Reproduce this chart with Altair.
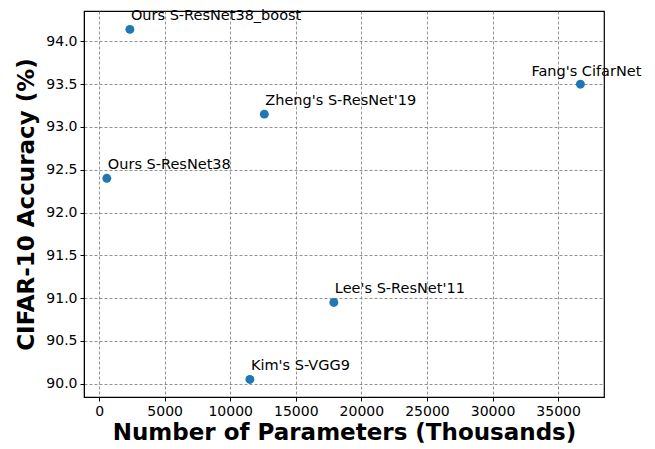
import altair as alt
import pandas as pd

models = ["Ours S-ResNet38_boost", "Ours S-ResNet38", "Zheng's S-ResNet'19",
          "Fang's CifarNet", "Lee's S-ResNet'11", "Kim's S-VGG9"]
params = [2350, 590, 12600, 36700, 17900, 11500]
accuracy = [94.14, 92.40, 93.15, 93.50, 90.95, 90.05]
x_ticks = [0, 5000, 10000, 15000, 20000, 25000, 30000, 35000]
y_ticks = [90.0, 90.5, 91.0, 91.5, 92.0, 92.5, 93.0, 93.5, 94.0]

df = pd.DataFrame({"model": models, "params": params, "acc": accuracy})

FONT = "DejaVu Sans"
xs = alt.Scale(domain=[-1150, 38500], nice=False, zero=False)
ys = alt.Scale(domain=[89.845, 94.355], nice=False, zero=False)

xenc = alt.X("params:Q", scale=xs,
             axis=alt.Axis(values=x_ticks, format="d", title="Number of Parameters (Thousands)",
                           titleFont=FONT, titleFontSize=23, titleFontWeight="bold",
                           titleColor="black", titlePadding=3,
                           labelFont=FONT, labelFontSize=14, labelColor="black",
                           tickColor="black", tickSize=4, domainColor="black",
                           gridColor="#777777", gridDash=[3, 2], gridWidth=0.8,
                           labelPadding=3))
yenc = alt.Y("acc:Q", scale=ys,
             axis=alt.Axis(values=y_ticks, format=".1f", title="CIFAR-10 Accuracy (%)",
                           titleFont=FONT, titleFontSize=23, titleFontWeight="bold",
                           titleColor="black", titlePadding=7,
                           labelFont=FONT, labelFontSize=14, labelColor="black",
                           tickColor="black", tickSize=4, domainColor="black",
                           gridColor="#777777", gridDash=[3, 2], gridWidth=0.8,
                           labelPadding=3))

base = alt.Chart(df)
points = base.mark_circle(size=80, color="#1f77b4", opacity=1).encode(x=xenc, y=yenc)
labels = base.transform_filter(alt.datum.model != "Fang's CifarNet").mark_text(
    align="left", baseline="alphabetic", dx=1, dy=-9, font=FONT, fontSize=14.5, color="black"
).encode(x=alt.X("params:Q", scale=xs), y=alt.Y("acc:Q", scale=ys), text="model:N")
fang = base.transform_filter(alt.datum.model == "Fang's CifarNet").mark_text(
    align="center", baseline="alphabetic", dx=6, dy=-8, font=FONT, fontSize=14.5, color="black"
).encode(x=alt.X("params:Q", scale=xs), y=alt.Y("acc:Q", scale=ys), text="model:N")

chart = (points + labels + fang).properties(
    width=520, height=386,
    autosize=alt.AutoSizeParams(type="none"),
    padding={"left": 76, "top": 3, "right": 40, "bottom": 50},
).configure_view(stroke="black", strokeWidth=1.2)

chart.save("out.html", embed_options={"renderer": "svg", "actions": False})
